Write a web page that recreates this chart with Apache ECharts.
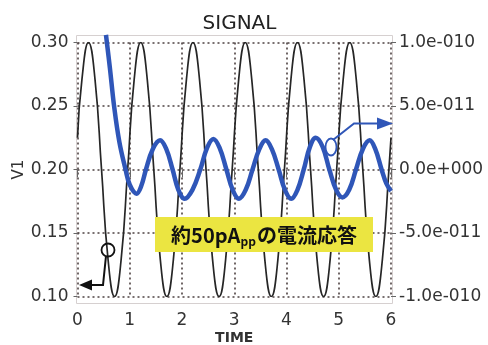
<!DOCTYPE html>
<html>
<head>
<meta charset="utf-8">
<script src="https://cdn.jsdelivr.net/npm/echarts@6/dist/echarts.min.js"></script>
<style>
html,body{margin:0;padding:0;background:#fff;}
#c{width:488px;height:345px;}
</style>
</head>
<body>
<div id="c"></div>
<script>
// ---- data ----
var title = 'SIGNAL';
var xName = 'TIME';
var yName = 'V1';
var xTicks = [0, 1, 2, 3, 4, 5, 6];
var leftTicks = [0.10, 0.15, 0.20, 0.25, 0.30];
var rightTicks = [-1.0e-10, -5.0e-11, 0, 5.0e-11, 1.0e-10];

// black voltage signal V1 (time, volts)
var vTime = [0, 0.085, 0.21, 0.335, 0.46, 0.585, 0.71, 0.835, 0.96,
  1.085, 1.21, 1.335, 1.46, 1.585, 1.71, 1.835, 1.96,
  2.085, 2.21, 2.335, 2.46, 2.585, 2.71, 2.835, 2.96,
  3.085, 3.21, 3.335, 3.46, 3.585, 3.71, 3.835, 3.96,
  4.085, 4.21, 4.335, 4.46, 4.585, 4.71, 4.835, 4.96,
  5.085, 5.21, 5.335, 5.46, 5.585, 5.71, 5.835, 5.96, 6.0];
var vValue = [0.225, 0.271, 0.300, 0.271, 0.200, 0.129, 0.100, 0.129, 0.200,
  0.271, 0.300, 0.271, 0.200, 0.129, 0.100, 0.129, 0.200,
  0.271, 0.300, 0.271, 0.200, 0.129, 0.100, 0.129, 0.200,
  0.271, 0.300, 0.271, 0.200, 0.129, 0.100, 0.129, 0.200,
  0.271, 0.300, 0.271, 0.200, 0.129, 0.100, 0.129, 0.200,
  0.271, 0.300, 0.271, 0.200, 0.129, 0.100, 0.129, 0.200, 0.225];

// blue current response (time, amperes)
var iTime = [0.545, 0.62, 0.70, 0.80, 0.92, 1.00, 1.13, 1.22, 1.31, 1.44, 1.58,
  1.70, 1.82, 1.93, 2.05, 2.20, 2.35, 2.48, 2.60, 2.72, 2.85, 2.97, 3.09,
  3.22, 3.35, 3.48, 3.60, 3.72, 3.85, 3.97, 4.09, 4.21, 4.33, 4.45, 4.56,
  4.69, 4.82, 4.95, 5.07, 5.20, 5.33, 5.46, 5.59, 5.70, 5.82, 5.91, 6.00];
var iValue = [1.06e-10, 8.0e-11, 5.0e-11, 2.2e-11, 0, -1.2e-11, -1.9e-11, -1.3e-11, 0, 1.6e-11, 2.3e-11,
  1.6e-11, 0, -1.6e-11, -2.3e-11, -1.6e-11, 0, 1.7e-11, 2.4e-11, 1.7e-11, 0, -1.6e-11, -2.3e-11,
  -1.6e-11, 0, 1.6e-11, 2.3e-11, 1.6e-11, 0, -1.6e-11, -2.3e-11, -1.6e-11, 0, 1.8e-11, 2.5e-11,
  1.8e-11, 0, -1.6e-11, -2.2e-11, -1.6e-11, 0, 1.6e-11, 2.3e-11, 1.6e-11, 0, -1.1e-11, -1.7e-11];

var noteMain1 = '約50pA';
var noteSub = 'pp';
var noteMain2 = 'の電流応答';

// ---- chart ----
function zip(a, b) { return a.map(function (v, i) { return [v, b[i]]; }); }
function sci(v) {
  if (Math.abs(v) < 1e-20) return '0.0e+000';
  var e = Math.floor(Math.log10(Math.abs(v)) + 1e-9);
  var m = v / Math.pow(10, e);
  var s = e < 0 ? '-' : '+';
  var ae = String(Math.abs(e));
  while (ae.length < 3) ae = '0' + ae;
  return m.toFixed(1) + 'e' + s + ae;
}
var FONT = '"DejaVu Sans"';
var GRIDC = '#4c4040';
var chart = echarts.init(document.getElementById('c'), null, { renderer: 'canvas' });
chart.setOption({
  animation: false,
  backgroundColor: '#ffffff',
  title: {
    text: title, left: 234.5, textAlign: 'center', top: 9,
    textStyle: { fontFamily: FONT, fontSize: 20, fontWeight: 'normal', color: '#222' }
  },
  grid: { left: 77.5, right: 97, top: 42.5, bottom: 48.5, outerBoundsMode: 'none', containLabel: false },
  xAxis: {
    type: 'value', min: xTicks[0], max: xTicks[xTicks.length - 1], interval: 1,
    name: xName, nameLocation: 'middle', nameGap: 35, nameMoveOverlap: false,
    nameTextStyle: { fontFamily: FONT, fontSize: 14, fontWeight: 'bold', color: '#333' },
    axisLine: { show: true, lineStyle: { color: 'rgba(0,0,0,0)' } },
    axisTick: { show: true, length: 8, lineStyle: { color: '#666', width: 1 } },
    axisLabel: { fontFamily: FONT, fontSize: 17, color: '#333', margin: 16 },
    splitLine: { show: true, lineStyle: { color: GRIDC, width: 1.6, type: [2, 3] } }
  },
  yAxis: [{
    type: 'value', min: leftTicks[0], max: leftTicks[leftTicks.length - 1], interval: 0.05,
    name: yName, nameLocation: 'middle', nameGap: 51, nameRotate: 90, nameMoveOverlap: false,
    nameTextStyle: { fontFamily: FONT, fontSize: 15, color: '#333' },
    axisLine: { show: true, lineStyle: { color: 'rgba(0,0,0,0)' } },
    axisTick: { show: true, length: 4, lineStyle: { color: '#666' } },
    axisLabel: { fontFamily: FONT, fontSize: 17, color: '#333', margin: 9,
      formatter: function (v) { return v.toFixed(2); } },
    splitLine: { show: true, lineStyle: { color: GRIDC, width: 1.6, type: [2, 3] } }
  }, {
    type: 'value', position: 'right',
    min: rightTicks[0], max: rightTicks[rightTicks.length - 1], interval: 5e-11,
    axisLine: { show: true, lineStyle: { color: 'rgba(0,0,0,0)' } },
    axisTick: { show: true, length: 5, lineStyle: { color: '#666' } },
    axisLabel: { fontFamily: FONT, fontSize: 17, color: '#333', margin: 8, formatter: sci },
    splitLine: { show: false }
  }],
  series: [{
    type: 'line', name: 'V1', yAxisIndex: 0, data: zip(vTime, vValue),
    smooth: 0.5, showSymbol: false, clip: true,
    lineStyle: { color: '#262626', width: 1.7 }
  }, {
    type: 'line', name: 'I', yAxisIndex: 1, data: zip(iTime, iValue),
    smooth: 0.4, showSymbol: false, clip: false,
    lineStyle: { color: '#2f56b8', width: 4.5 }
  }]
});

// frame and annotations
chart.setOption({
  graphic: [
    { type: 'rect', shape: { x: 76.5, y: 35.5, width: 316, height: 268 },
      style: { fill: 'none', stroke: '#d6d0d0', lineWidth: 1 }, z: 0, silent: true },
    { type: 'rect', shape: { x: 155, y: 217, width: 218, height: 35 },
      style: { fill: '#ebe541' }, z: 50 },
    { type: 'text', x: 264, y: 235, z: 51,
      style: {
        text: '{a|' + noteMain1 + '}{s|' + noteSub + '}{a|' + noteMain2 + '}',
        align: 'center', verticalAlign: 'middle',
        rich: {
          a: { fontFamily: 'Noto Sans CJK JP', fontSize: 20, fontWeight: 'bold', fill: '#111', lineHeight: 24 },
          s: { fontFamily: 'Noto Sans CJK JP', fontSize: 12, fontWeight: 'bold', fill: '#111', verticalAlign: 'bottom', lineHeight: 12, padding: [8, 1, 0, 0] }
        }
      } },
    // black arrow (left axis)
    { type: 'ellipse', shape: { cx: 108, cy: 250, rx: 6.5, ry: 6.5 },
      style: { fill: 'none', stroke: '#111', lineWidth: 1.8 }, z: 60 },
    { type: 'polyline', shape: { points: [[106, 256], [103, 285], [90, 285]] },
      style: { fill: 'none', stroke: '#111', lineWidth: 2 }, z: 60 },
    { type: 'polygon', shape: { points: [[79, 285], [92, 279.5], [92, 290.5]] },
      style: { fill: '#111' }, z: 60 },
    // blue arrow (right axis)
    { type: 'ellipse', shape: { cx: 331, cy: 147, rx: 5.5, ry: 8.5 },
      style: { fill: 'none', stroke: '#2f56b8', lineWidth: 1.8 }, z: 60 },
    { type: 'polyline', shape: { points: [[333, 140], [354, 123.5], [378, 123.5]] },
      style: { fill: 'none', stroke: '#2f56b8', lineWidth: 2 }, z: 60 },
    { type: 'polygon', shape: { points: [[393, 123.5], [377, 117.5], [377, 129.5]] },
      style: { fill: '#2f56b8' }, z: 60 }
  ]
});
</script>
</body>
</html>
